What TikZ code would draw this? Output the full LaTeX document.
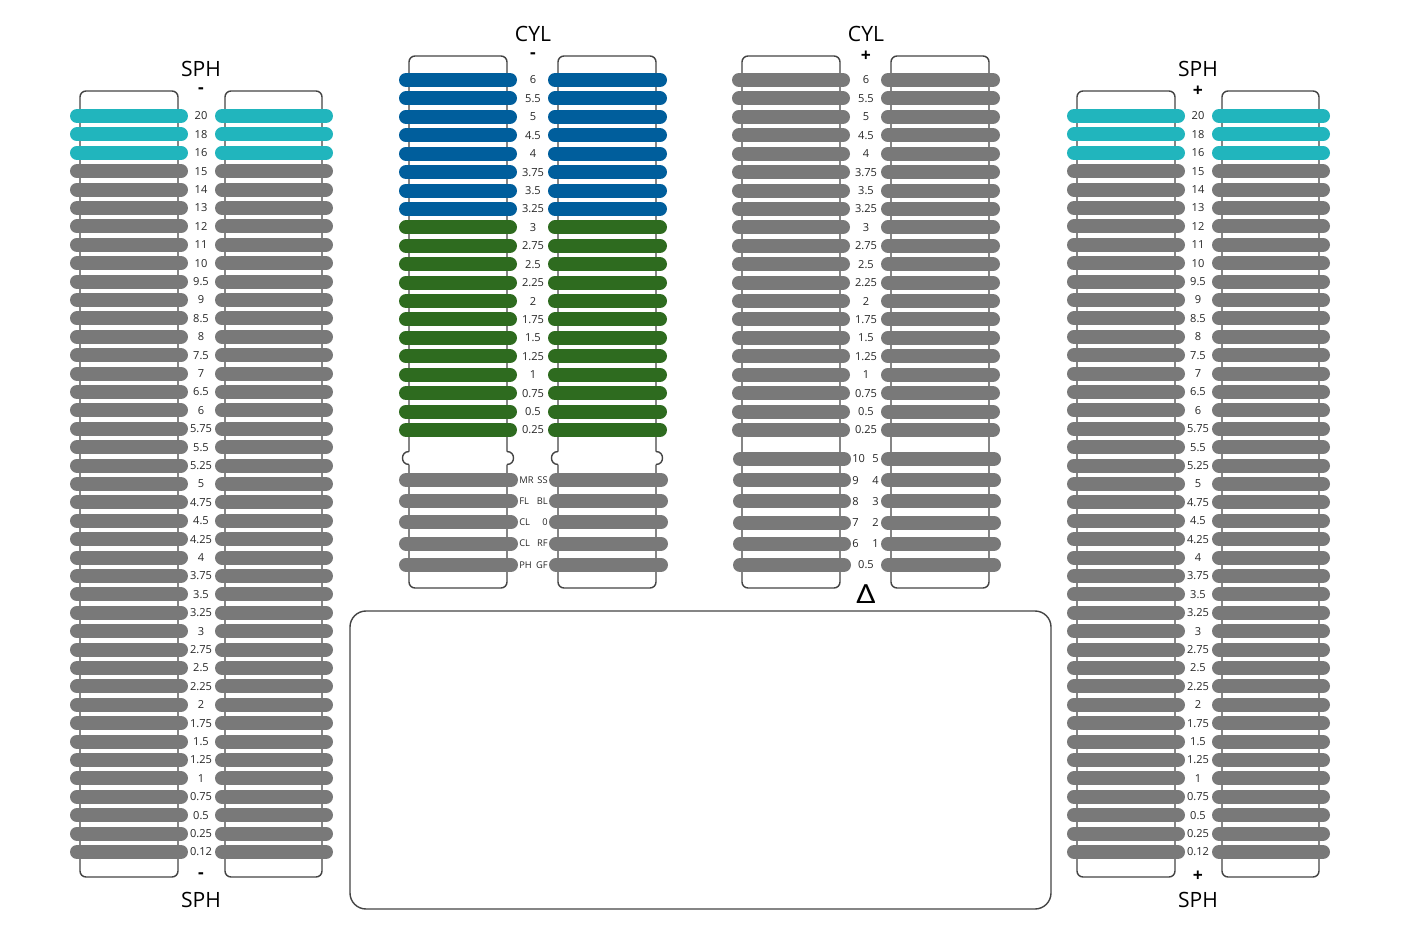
\documentclass[tikz,border=0pt]{standalone}
\usepackage{fontspec}
\setmainfont{Open Sans}
\definecolor{sphteal}{HTML}{21B5BD}
\definecolor{cylblue}{HTML}{005E9C}
\definecolor{cylgreen}{HTML}{2E6B1F}
\definecolor{lensgray}{HTML}{797979}
\definecolor{rimgray}{HTML}{444444}
\begin{document}
\begin{tikzpicture}[x=0.02cm,y=-0.02cm,
  bar/.style = {line width=0.28cm, line cap=round},
  box/.style = {draw=rimgray, line width=0.8pt, rounded corners=0.12cm},
  num/.style = {font=\fontsize{6.3}{7}\selectfont, text=black!85, inner sep=0pt},
  code/.style = {font=\fontsize{5.3}{7}\selectfont, text=black!85, inner sep=0pt},
  head/.style = {font=\fontsize{12}{14}\selectfont, inner sep=0pt},
  sign/.style = {font=\fontsize{10}{12}\selectfont\bfseries, inner sep=0pt},]
\useasboundingbox (0,0) rectangle (1401,950);
\foreach \cx/\sgn/\tag in {201/-/l,1198/+/r}{
  \draw[box] (\cx-121,91) rectangle (\cx-23,877);
  \draw[box] (\cx+24,91) rectangle (\cx+121,877);
  \node[head] (sph-\tag-top) at (\cx,69) {SPH};
  \node[sign] (sgn-\tag-top) at (\cx,91) {\sgn};
  \node[sign] (sgn-\tag-bot) at (\cx,876) {\sgn};
  \node[head] (sph-\tag-bot) at (\cx,900) {SPH};
  \foreach \v [count=\i from 0] in {20,18,16,15,14,13,12,11,10,9.5,9,8.5,8,7.5,7,6.5,6,5.75,5.5,5.25,5,4.75,4.5,4.25,4,3.75,3.5,3.25,3,2.75,2.5,2.25,2,1.75,1.5,1.25,1,0.75,0.5,0.25,0.12}{
    \pgfmathsetmacro\y{116+18.4*\i}
    \ifnum\i<3 \colorlet{barcol}{sphteal}\else\colorlet{barcol}{lensgray}\fi
    \draw[bar,barcol] (\cx-124,\y)--(\cx-20,\y);
    \draw[bar,barcol] (\cx+21,\y)--(\cx+125,\y);
    \node[num] (sph-\tag-\i) at (\cx,\y) {\v};
  }
}
\foreach \a/\b in {409/507,558/656}{
  \draw[box] (\a,451.5)--(\a,56)--(\b,56)--(\b,451.5);
  \draw[box] (\a,464.5)--(\a,588)--(\b,588)--(\b,464.5);
  \draw[box,sharp corners] (\a,451.5) .. controls (\a-8.7,451.5) and (\a-8.7,464.5) .. (\a,464.5);
  \draw[box,sharp corners] (\b,451.5) .. controls (\b+8.7,451.5) and (\b+8.7,464.5) .. (\b,464.5);
}
\draw[box] (742,56) rectangle (840,588);
\draw[box] (891,56) rectangle (989,588);
\foreach \cx/\sgn/\tag/\upper/\lower in {533/-/m/cylblue/cylgreen,866/+/p/lensgray/lensgray}{
  \node[head] (cyl-\tag) at (\cx,34) {CYL};
  \node[sign] (sgn-\tag) at (\cx,56) {\sgn};
  \foreach \v [count=\i from 0] in {6,5.5,5,4.5,4,3.75,3.5,3.25,3,2.75,2.5,2.25,2,1.75,1.5,1.25,1,0.75,0.5,0.25}{
    \pgfmathsetmacro\y{80+18.42*\i}
    \ifnum\i<8 \colorlet{barcol}{\upper}\else\colorlet{barcol}{\lower}\fi
    \draw[bar,barcol] (\cx-127,\y)--(\cx-23,\y);
    \draw[bar,barcol] (\cx+22,\y)--(\cx+127,\y);
    \node[num] (cyl-\tag-\i) at (\cx,\y) {\v};
  }
}
\foreach \l/\r [count=\j from 0] in {MR/SS,FL/BL,CL/0,CL/RF,PH/GF}{
  \pgfmathsetmacro\y{480+21.2*\j}
  \draw[bar,lensgray] (406,\y)--(511,\y);
  \draw[bar,lensgray] (556,\y)--(661,\y);
  \node[code,anchor=west] (mode-l\j) at (519,\y) {\l};
  \node[code,anchor=east] (mode-r\j) at (548,\y) {\r};
}
\foreach \l/\r [count=\j from 0] in {10/5,9/4,8/3,7/2,6/1}{
  \pgfmathsetmacro\y{459+21.2*\j}
  \draw[bar,lensgray] (740,\y)--(844,\y);
  \draw[bar,lensgray] (888,\y)--(994,\y);
  \node[num,anchor=west] (add-l\j) at (852,\y) {\l};
  \node[num,anchor=east] (add-r\j) at (879,\y) {\r};
}
\draw[bar,lensgray] (740,565)--(844,565);
\draw[bar,lensgray] (888,565)--(994,565);
\node[num] (add-half) at (866,565) {0.5};
\node[font=\fontsize{15}{17}\selectfont,xscale=1.3,inner sep=0pt] (delta) at (866,594) {Δ};
\draw[draw=rimgray,line width=0.8pt,rounded corners=0.32cm] (350,611) rectangle (1051,909);
\end{tikzpicture}
\end{document}
